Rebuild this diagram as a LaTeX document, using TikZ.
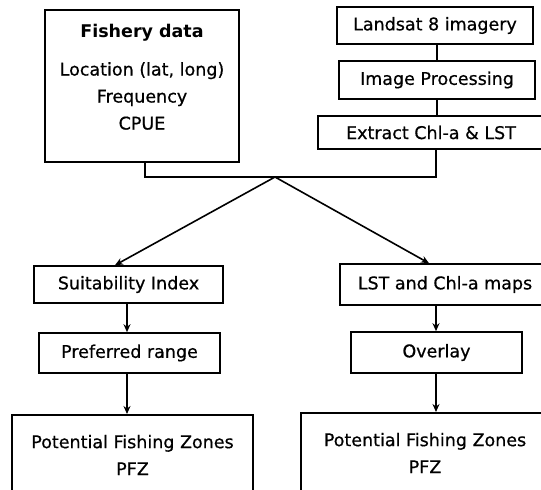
\documentclass[tikz,border=0pt]{standalone}
\usepackage{fontspec}
\setmainfont[FakeBold=0.6]{DejaVu Sans}[BoldFont={DejaVu Sans Bold}, BoldFeatures={FakeBold=0}]
\usetikzlibrary{arrows.meta}
\begin{document}
\begin{tikzpicture}[x=1pt,y=-1pt,
  box/.style={draw, line width=1.6pt, inner sep=0pt, minimum width=#1},
  txt/.style={font=\fontsize{17.5}{27}\selectfont, align=center, inner sep=0pt},
  ln/.style={line width=1.6pt},
  arr/.style={line width=1.6pt, -{Stealth[length=8pt,width=7pt]}}]
\clip (0,0) rectangle (541,490);
\fill[white] (0,0) rectangle (541,490);
% left column
\node[box=194pt, minimum height=152pt] (fish) at (142,86) {};
\node[txt] (fishtext) at (142,77) {\textbf{Fishery data}\\[11pt]Location (lat, long)\\Frequency\\CPUE};
\node[box=189pt, minimum height=37pt, txt] (suit) at (128.5,284.5) {Suitability Index};
\node[box=181pt, minimum height=40pt, txt] (pref) at (129.5,353) {Preferred range};
\node[box=241pt, minimum height=100pt, anchor=north] (pfzl) at (132.5,414) {};
\node[txt] (pfzltext) at (132.5,455) {Potential Fishing Zones\\PFZ};
% right column
\node[box=196pt, minimum height=37pt, txt] (land) at (435,25.5) {Landsat 8 imagery};
\node[box=196pt, minimum height=38pt, txt] (proc) at (437,80) {Image Processing};
\node[box=226pt, minimum height=33pt, txt] (extr) at (431,132.5) {Extract Chl-a \& LST};
\node[box=210pt, minimum height=41pt, txt] (lst) at (445,284.5) {LST and Chl-a maps};
\node[box=171pt, minimum height=41pt, txt] (over) at (436.5,352.5) {Overlay};
\node[box=248pt, minimum height=100pt, anchor=north] (pfzr) at (425,412) {};
\node[txt] (pfzrtext) at (425,453) {Potential Fishing Zones\\PFZ};
% connectors
\coordinate (j) at (275,177);
\draw[ln] (land.south -| 437,0) -- (proc.north -| 437,0);
\draw[ln] (proc.south -| 437,0) -- (extr.north -| 437,0);
\draw[ln] (extr.south -| 436,0) |- (j);
\draw[ln] (fish.south -| 145,0) |- (j);
\draw[arr] (j) -- (suit.north -| 115,0);
\draw[arr] (j) -- (lst.north -| 429,0);
\draw[arr] (suit.south -| 127,0) -- (pref.north -| 127,0);
\draw[arr] (pref.south -| 127,0) -- (pfzl.north -| 127,0);
\draw[arr] (lst.south -| 436,0) -- (over.north -| 436,0);
\draw[arr] (over.south -| 436,0) -- (pfzr.north -| 436,0);
\end{tikzpicture}
\end{document}
